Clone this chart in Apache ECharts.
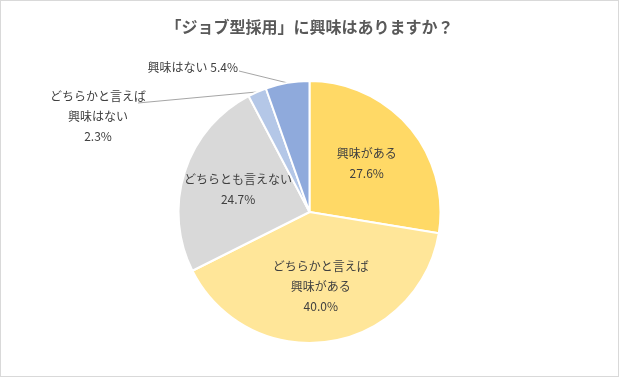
<!DOCTYPE html>
<html>
<head>
<meta charset="utf-8">
<script src="https://cdn.jsdelivr.net/npm/echarts@6/dist/echarts.min.js"></script>
<style>
html,body{margin:0;padding:0;background:#fff;}
#chart{width:619px;height:377px;box-sizing:border-box;border:1px solid #d9d9d9;}
</style>
</head>
<body>
<div id="chart"></div>
<script>
const titleText = '「ジョブ型採用」に興味はありますか？';
const categories = ['興味がある', 'どちらかと言えば興味がある', 'どちらとも言えない', 'どちらかと言えば興味はない', '興味はない'];
const labelNames = ['興味がある', 'どちらかと言えば\n興味がある', 'どちらとも言えない', 'どちらかと言えば\n興味はない', '興味はない'];
const values = [27.6, 40.0, 24.7, 2.3, 5.4];
const colors = ['#FFD966', '#FFE699', '#D9D9D9', '#B4C7E7', '#8FAADC'];
const insideIdx = [0, 1, 2];

const font = '"Noto Sans CJK JP", "Noto Sans", sans-serif';
const center = ['50%', 211];

const mainData = categories.map((c, i) => ({
  name: c, value: values[i],
  itemStyle: { color: colors[i] },
  label: { show: insideIdx.indexOf(i) < 0 },
  labelLine: { show: insideIdx.indexOf(i) < 0 }
}));
const ghostData = categories.map((c, i) => ({
  name: c, value: values[i],
  label: { show: insideIdx.indexOf(i) >= 0 }
}));

const chart = echarts.init(document.getElementById('chart'), null, { renderer: 'canvas' });
chart.setOption({
  animation: false,
  backgroundColor: '#fff',
  title: {
    text: titleText, left: 'center', top: 13,
    textStyle: { fontFamily: font, fontSize: 16, fontWeight: 'bold', color: '#595959' }
  },
  series: [
    {
      type: 'pie', radius: [0, 131], center: center, startAngle: 90, clockwise: true,
      data: mainData, silent: true,
      itemStyle: { borderColor: '#fff', borderWidth: 2 },
      label: {
        position: 'outside', fontFamily: font, fontSize: 12, lineHeight: 20, color: '#404040',
        formatter: p => p.dataIndex === 4
          ? labelNames[p.dataIndex] + ' ' + values[p.dataIndex].toFixed(1) + '%'
          : labelNames[p.dataIndex] + '\n' + values[p.dataIndex].toFixed(1) + '%'
      },
      labelLine: { lineStyle: { color: '#a6a6a6', width: 1 }, length: 10, length2: 10 },
      labelLayout: function (p) {
        const start = p.labelLinePoints ? p.labelLinePoints[0] : null;
        if (p.dataIndex === 4) {
          const end = [238, 70];
          return { x: 237, y: 66, align: 'right', verticalAlign: 'middle',
            labelLinePoints: start ? [start, end, end] : undefined };
        }
        if (p.dataIndex === 3) {
          const end = [137, 102];
          return { x: 97, y: 115, align: 'center', verticalAlign: 'middle',
            labelLinePoints: start ? [start, end, end] : undefined };
        }
        return {};
      }
    },
    {
      type: 'pie', radius: [0, 144], center: center, startAngle: 90, clockwise: true,
      data: ghostData, silent: true, z: 3,
      itemStyle: { color: 'rgba(0,0,0,0)', borderWidth: 0 },
      label: {
        position: 'inside', fontFamily: font, fontSize: 12, lineHeight: 20, color: '#404040',
        formatter: p => labelNames[p.dataIndex] + '\n' + values[p.dataIndex].toFixed(1) + '%'
      },
      labelLine: { show: false }
    }
  ]
});
</script>
</body>
</html>
